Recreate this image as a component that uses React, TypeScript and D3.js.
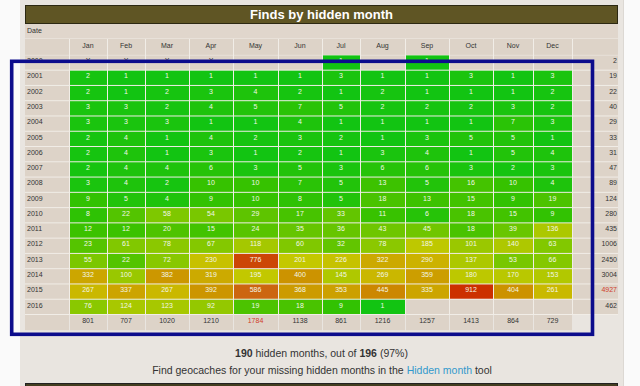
import * as d3 from "d3";

const MONTHS = ["Jan", "Feb", "Mar", "Apr", "May", "Jun", "Jul", "Aug", "Sep", "Oct", "Nov", "Dec"];
const YEARS = ["2000", "2001", "2002", "2003", "2004", "2005", "2006", "2007", "2008",
  "2009", "2010", "2011", "2012", "2013", "2014", "2015", "2016"];

// null = nothing hidden that month, "X" = month before geocaching existed
const FINDS_2000 = ["X", "X", "X", "X", null, null, 1, null, 1, null, null, null];
const FINDS_2001 = [2, 1, 1, 1, 1, 1, 3, 1, 1, 3, 1, 3];
const FINDS_2002 = [2, 1, 2, 3, 4, 2, 1, 2, 1, 1, 1, 2];
const FINDS_2003 = [3, 3, 2, 4, 5, 7, 5, 2, 2, 2, 3, 2];
const FINDS_2004 = [3, 3, 3, 1, 1, 4, 1, 1, 1, 1, 7, 3];
const FINDS_2005 = [2, 4, 1, 4, 2, 3, 2, 1, 3, 5, 5, 1];
const FINDS_2006 = [2, 4, 1, 3, 1, 2, 1, 3, 4, 1, 5, 4];
const FINDS_2007 = [2, 4, 4, 6, 3, 5, 3, 6, 6, 3, 2, 3];
const FINDS_2008 = [3, 4, 2, 10, 10, 7, 5, 13, 5, 16, 10, 4];
const FINDS_2009 = [9, 5, 4, 9, 10, 8, 5, 18, 13, 15, 9, 19];
const FINDS_2010 = [8, 22, 58, 54, 29, 17, 33, 11, 6, 18, 15, 9];
const FINDS_2011 = [12, 12, 20, 15, 24, 35, 36, 43, 45, 18, 39, 136];
const FINDS_2012 = [23, 61, 78, 67, 118, 60, 32, 78, 185, 101, 140, 63];
const FINDS_2013 = [55, 22, 72, 230, 776, 201, 226, 322, 290, 137, 53, 66];
const FINDS_2014 = [332, 100, 382, 319, 195, 400, 145, 269, 359, 180, 170, 153];
const FINDS_2015 = [267, 337, 267, 392, 586, 368, 353, 445, 335, 912, 404, 261];
const FINDS_2016 = [76, 124, 123, 92, 19, 18, 9, 1, null, null, null, null];

const YEAR_TOTALS = [2, 19, 22, 40, 29, 33, 31, 47, 89, 124, 280, 435, 1006, 2450, 3004, 4927, 462];
const MONTH_TOTALS = [801, 707, 1020, 1210, 1784, 1138, 861, 1216, 1257, 1413, 864, 729];

const FOUND_MONTHS = 190;
const ALL_MONTHS = 196;
const FOUND_PCT = 97;

const FINDS = [FINDS_2000, FINDS_2001, FINDS_2002, FINDS_2003, FINDS_2004, FINDS_2005,
  FINDS_2006, FINDS_2007, FINDS_2008, FINDS_2009, FINDS_2010, FINDS_2011, FINDS_2012,
  FINDS_2013, FINDS_2014, FINDS_2015, FINDS_2016];

// layout / style
const WIDTH = 640;
const HEIGHT = 386;
const TABLE_LEFT = 25;
const TABLE_RIGHT = 618;
const FIRST_COL_X = 69;
const COL_WIDTHS = [38, 38, 44, 44, 45, 44, 38, 45, 44, 44, 40, 39];
const ROW_TOP = 55.4;
const ROW_H = 15.27;
const FONT = "'Liberation Sans', Arial, sans-serif";

const HEAT_STOPS = [1, 10, 25, 60, 120, 200, 290, 380, 450, 586, 776, 912];
const HEAT_COLORS = ["#12c412", "#36c200", "#5ac400", "#80c800", "#a6c800", "#c4c800",
  "#ccb200", "#cc9800", "#cc8600", "#cc6610", "#cc4606", "#cc3000"];

const CELL_BG = "#ddd3c8";
const GRID = "#f1ede7";
const TEXT = "#333";
const HIGHLIGHT = "#d0402a";

export default function App() {
  const rows = [...YEARS, "total"];
  const y = d3.scaleBand<string>()
    .domain(rows)
    .range([ROW_TOP, ROW_TOP + rows.length * ROW_H]);

  const edges = [FIRST_COL_X, ...Array.from(d3.cumsum(COL_WIDTHS), (v) => FIRST_COL_X + v)];
  const colX = d3.scaleOrdinal<string, number>().domain(MONTHS).range(edges.slice(0, 12));
  const colW = d3.scaleOrdinal<string, number>().domain(MONTHS).range(COL_WIDTHS);
  const lastX = edges[12];

  const heat = d3.scaleLinear<string>()
    .domain(HEAT_STOPS)
    .range(HEAT_COLORS)
    .interpolate(d3.interpolateRgb)
    .clamp(true);

  const maxYear = d3.max(YEAR_TOTALS) ?? 0;
  const maxMonth = d3.max(MONTH_TOTALS) ?? 0;
  const bw = y.bandwidth();
  const base = (r: string) => (y(r) ?? 0) + 7.8;

  const totalRowY = y("total") ?? 0;
  const tableBottom = totalRowY + bw;

  return (
    <div style={{ position: "fixed", left: 0, top: 0 }}>
      <svg width={WIDTH} height={HEIGHT} style={{ display: "block", fontFamily: FONT }}>
        <rect width={WIDTH} height={HEIGHT} fill="#fafafa" />
        <rect x={20} y={0} width={603} height={HEIGHT} fill="#e9e5e0" />
        <line x1={623.5} x2={623.5} y1={0} y2={HEIGHT} stroke="#dcd8d3" />

        {/* title */}
        <rect x={25.5} y={5.5} width={592} height={18} fill="#5f5524" stroke="#2c2812" />
        <text x={321.5} y={19.3} textAnchor="middle" fill="#fff" fontSize={13} fontWeight={700}>
          Finds by hidden month
        </text>

        {/* table body */}
        <rect x={TABLE_LEFT} y={24} width={TABLE_RIGHT - TABLE_LEFT} height={tableBottom - 24 - bw} fill={GRID} />
        <rect x={TABLE_LEFT} y={24} width={TABLE_RIGHT - TABLE_LEFT} height={14.5} fill="#e0d6cc" />
        <text x={27} y={33} fontSize={7} fill={TEXT}>Date</text>

        {/* month header row */}
        <rect x={TABLE_LEFT} y={39} width={FIRST_COL_X - TABLE_LEFT} height={ROW_TOP - 39.5} fill={CELL_BG} />
        {MONTHS.map((m) => (
          <g key={m}>
            <rect x={colX(m) + 1} y={39} width={colW(m) - 1} height={ROW_TOP - 39.5} fill={CELL_BG} />
            <text x={colX(m) + colW(m) / 2} y={48} fontSize={7} fill={TEXT} textAnchor="middle">{m}</text>
          </g>
        ))}
        <rect x={lastX + 1} y={39} width={TABLE_RIGHT - lastX - 1} height={ROW_TOP - 39.5} fill={CELL_BG} />

        {/* year rows */}
        {YEARS.map((yr, i) => {
          const top = y(yr) ?? 0;
          return (
            <g key={yr}>
              <rect x={TABLE_LEFT} y={top} width={FIRST_COL_X - TABLE_LEFT} height={bw - 1} fill={CELL_BG} />
              <text x={27} y={base(yr)} fontSize={7} fill={TEXT}>{yr}</text>
              {MONTHS.map((m, j) => {
                const v = FINDS[i][j];
                const colored = typeof v === "number";
                return (
                  <g key={m}>
                    <rect x={colX(m) + 1} y={top} width={colW(m) - 1} height={bw - 1}
                      fill={colored ? heat(v as number) : CELL_BG} />
                    {v !== null && (
                      <text x={colX(m) + colW(m) / 2} y={base(yr)} fontSize={7} textAnchor="middle"
                        fill={colored ? "#f2f6e6" : TEXT}>{v}</text>
                    )}
                  </g>
                );
              })}
              <rect x={lastX + 1} y={top} width={TABLE_RIGHT - lastX - 1} height={bw - 1} fill={CELL_BG} />
              <text x={617} y={base(yr)} fontSize={7} textAnchor="end"
                fill={YEAR_TOTALS[i] === maxYear ? HIGHLIGHT : TEXT}>{YEAR_TOTALS[i]}</text>
            </g>
          );
        })}

        {/* month totals */}
        <rect x={TABLE_LEFT} y={totalRowY} width={FIRST_COL_X - TABLE_LEFT} height={bw} fill={CELL_BG} />
        {MONTHS.map((m, j) => (
          <g key={m}>
            <rect x={colX(m) + 1} y={totalRowY} width={colW(m) - 1} height={bw} fill={CELL_BG} />
            <text x={colX(m) + colW(m) / 2} y={base("total")} fontSize={7} textAnchor="middle"
              fill={MONTH_TOTALS[j] === maxMonth ? HIGHLIGHT : TEXT}>{MONTH_TOTALS[j]}</text>
          </g>
        ))}

        {/* selection frame */}
        <rect x={11.7} y={61.3} width={580.8} height={273} fill="none" stroke="#0c0c8c" strokeWidth={3.6} />

        {/* summary */}
        <text x={321.5} y={357} textAnchor="middle" fontSize={10.5} fill={TEXT}>
          <tspan fontWeight={700}>{FOUND_MONTHS}</tspan> hidden months, out of <tspan fontWeight={700}>{ALL_MONTHS}</tspan> ({FOUND_PCT}%)
        </text>
        <text x={322} y={374} textAnchor="middle" fontSize={10.5} fill={TEXT}>
          Find geocaches for your missing hidden months in the <tspan fill="#3399cc">Hidden month</tspan> tool
        </text>

        <rect x={25.5} y={383.5} width={592} height={10} fill="#433d20" stroke="#222" />
      </svg>
    </div>
  );
}
